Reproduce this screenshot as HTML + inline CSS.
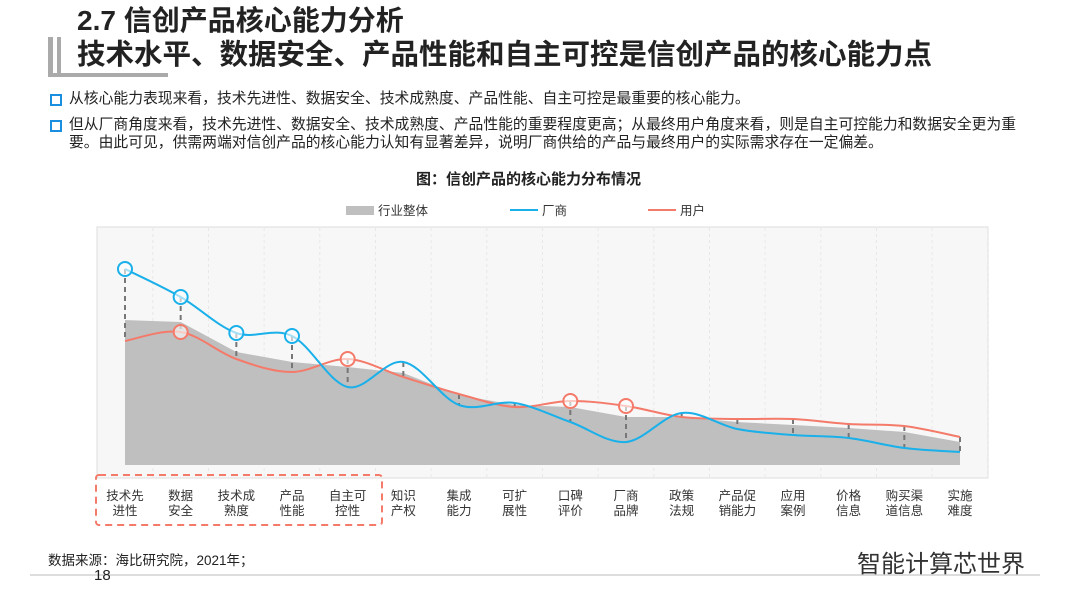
<!DOCTYPE html>
<html><head><meta charset="utf-8"><style>
body{margin:0;width:1080px;height:608px;background:#fff;position:relative;overflow:hidden;font-family:"Liberation Sans","Noto Sans CJK SC",sans-serif;color:#222}
.a{position:absolute;white-space:nowrap}
.b{position:absolute;width:8px;height:8px;border:2px solid #1a8fe0;}
</style></head><body>
<div class="a" style="left:48px;top:37px;width:5px;height:38px;background:#aaa"></div>
<div class="a" style="left:57px;top:37px;width:4px;height:38px;background:#aaa"></div>
<div class="a" style="left:48px;top:73px;width:120px;height:4px;background:#aaa"></div>
<div class="a" style="left:77px;top:4px;font-size:28px;font-weight:bold;line-height:34px">2.7 信创产品核心能力分析</div>
<div class="a" style="left:77px;top:37px;font-size:28.5px;font-weight:bold;line-height:36px">技术水平、数据安全、产品性能和自主可控是信创产品的核心能力点</div>
<div class="b" style="left:50px;top:94px"></div>
<div class="a" style="left:69px;top:90px;font-size:14.8px;line-height:18px">从核心能力表现来看，技术先进性、数据安全、技术成熟度、产品性能、自主可控是最重要的核心能力。</div>
<div class="b" style="left:50px;top:120px"></div>
<div class="a" style="left:69px;top:116px;font-size:14.8px;line-height:18px">但从厂商角度来看，技术先进性、数据安全、技术成熟度、产品性能的重要程度更高；从最终用户角度来看，则是自主可控能力和数据安全更为重<br>要。由此可见，供需两端对信创产品的核心能力认知有显著差异，说明厂商供给的产品与最终用户的实际需求存在一定偏差。</div>
<div class="a" style="left:416px;top:168px;font-size:15px;font-weight:bold">图：信创产品的核心能力分布情况</div>
<svg class="a" style="left:0;top:0" width="1080" height="608">
<g font-size="12.5" fill="#333">
<rect x="346" y="206" width="28" height="9" fill="#bfbfbf"/><text x="378" y="215">行业整体</text>
<line x1="510" y1="210" x2="538" y2="210" stroke="#1ab0ea" stroke-width="2"/><text x="542" y="215">厂商</text>
<line x1="648" y1="210" x2="676" y2="210" stroke="#f47a6a" stroke-width="2"/><text x="680" y="215">用户</text>
</g>
<rect x="97" y="227" width="891" height="251" fill="#f7f7f7" stroke="#ddd"/>
<g id="grid"></g><g id="marks"></g>
<rect x="96" y="475" width="286" height="50" fill="none" stroke="#f47a6a" stroke-width="2" stroke-dasharray="7,5" rx="3"/>
<g id="labels" font-size="12.5" fill="#333" text-anchor="middle"></g>
<line x1="30" y1="575" x2="1040" y2="575" stroke="#bbb"/>
</svg>
<div class="a" style="left:48px;top:549px;font-size:13.5px">数据来源：海比研究院，2021年；</div>
<div class="a" style="left:94px;top:567px;font-size:15px">18</div>
<div class="a" style="left:857px;top:544px;font-size:24px;color:#333">智能计算芯世界</div>
<script>
const categories=[["技术先","进性"],["数据","安全"],["技术成","熟度"],["产品","性能"],["自主可","控性"],["知识","产权"],["集成","能力"],["可扩","展性"],["口碑","评价"],["厂商","品牌"],["政策","法规"],["产品促","销能力"],["应用","案例"],["价格","信息"],["购买渠","道信息"],["实施","难度"]];
const overall=[145,143,113,103,98,92,70,60,58,48,48,43,40,37,33,23];
const vendor=[196,168,132,129,78,103,60,62,43,23,52,36,30,27,17,13];
const user=[124,133,106,93,106,88,71,58,64,59,48,46,46,41,39,28];
const vendorCircles=[0,1,2,3];
const userCircles=[1,4,8,9];
const NS="http://www.w3.org/2000/svg";
const x0=125,x1=960,yb=465,ppu=1;
const xs=i=>x0+i*(x1-x0)/(categories.length-1);
const ys=v=>yb-v*ppu;
function mk(t,a,p){const e=document.createElementNS(NS,t);for(const k in a)e.setAttribute(k,a[k]);p.appendChild(e);return e;}
const grid=document.getElementById('grid'),marks=document.getElementById('marks'),labels=document.getElementById('labels');
categories.forEach((c,i)=>{
 const g=mk('line',{x1:xs(i)+27.8,y1:228,x2:xs(i)+27.8,y2:477,stroke:'#e8e8e8','stroke-dasharray':'3,3'},grid);
 
 
 const t=mk('text',{x:xs(i),y:500},labels);
 
 
 mk('tspan',{x:xs(i),dy:0},t).textContent=c[0];
 mk('tspan',{x:xs(i),dy:15},t).textContent=c[1];
});
let d='M'+xs(0)+','+yb;overall.forEach((v,i)=>d+='L'+xs(i)+','+ys(v));d+='L'+xs(overall.length-1)+','+yb+'Z';
const area=mk('path',{d:d,fill:'#bfbfbf'},marks);


categories.forEach((c,i)=>{
 const l=mk('line',{x1:xs(i),y1:ys(Math.max(vendor[i],user[i],overall[i])),x2:xs(i),y2:ys(Math.min(vendor[i],user[i],overall[i])),stroke:'#777','stroke-width':2,'stroke-dasharray':'5,4'},marks);
 
 
});
function smooth(arr){let p=arr.map((v,i)=>[xs(i),ys(v)]);let s='M'+p[0];for(let i=0;i<p.length-1;i++){const a=p[Math.max(i-1,0)],b=p[i],c=p[i+1],e=p[Math.min(i+2,p.length-1)];s+='C'+(b[0]+(c[0]-a[0])/6)+','+(b[1]+(c[1]-a[1])/6)+' '+(c[0]-(e[0]-b[0])/6)+','+(c[1]-(e[1]-b[1])/6)+' '+c[0]+','+c[1];}return s;}
const ul=mk('path',{d:smooth(user),fill:'none',stroke:'#f47a6a','stroke-width':2},marks);


const vl=mk('path',{d:smooth(vendor),fill:'none',stroke:'#1ab0ea','stroke-width':2},marks);


vendorCircles.forEach(i=>{const c=mk('circle',{cx:xs(i),cy:ys(vendor[i]),r:7,fill:'#fff','fill-opacity':0.6,stroke:'#1ab0ea','stroke-width':2},marks);
 
 });
userCircles.forEach(i=>{const c=mk('circle',{cx:xs(i),cy:ys(user[i]),r:7,fill:'#fff','fill-opacity':0.6,stroke:'#f47a6a','stroke-width':2},marks);
 
 });
</script>
</body></html>
